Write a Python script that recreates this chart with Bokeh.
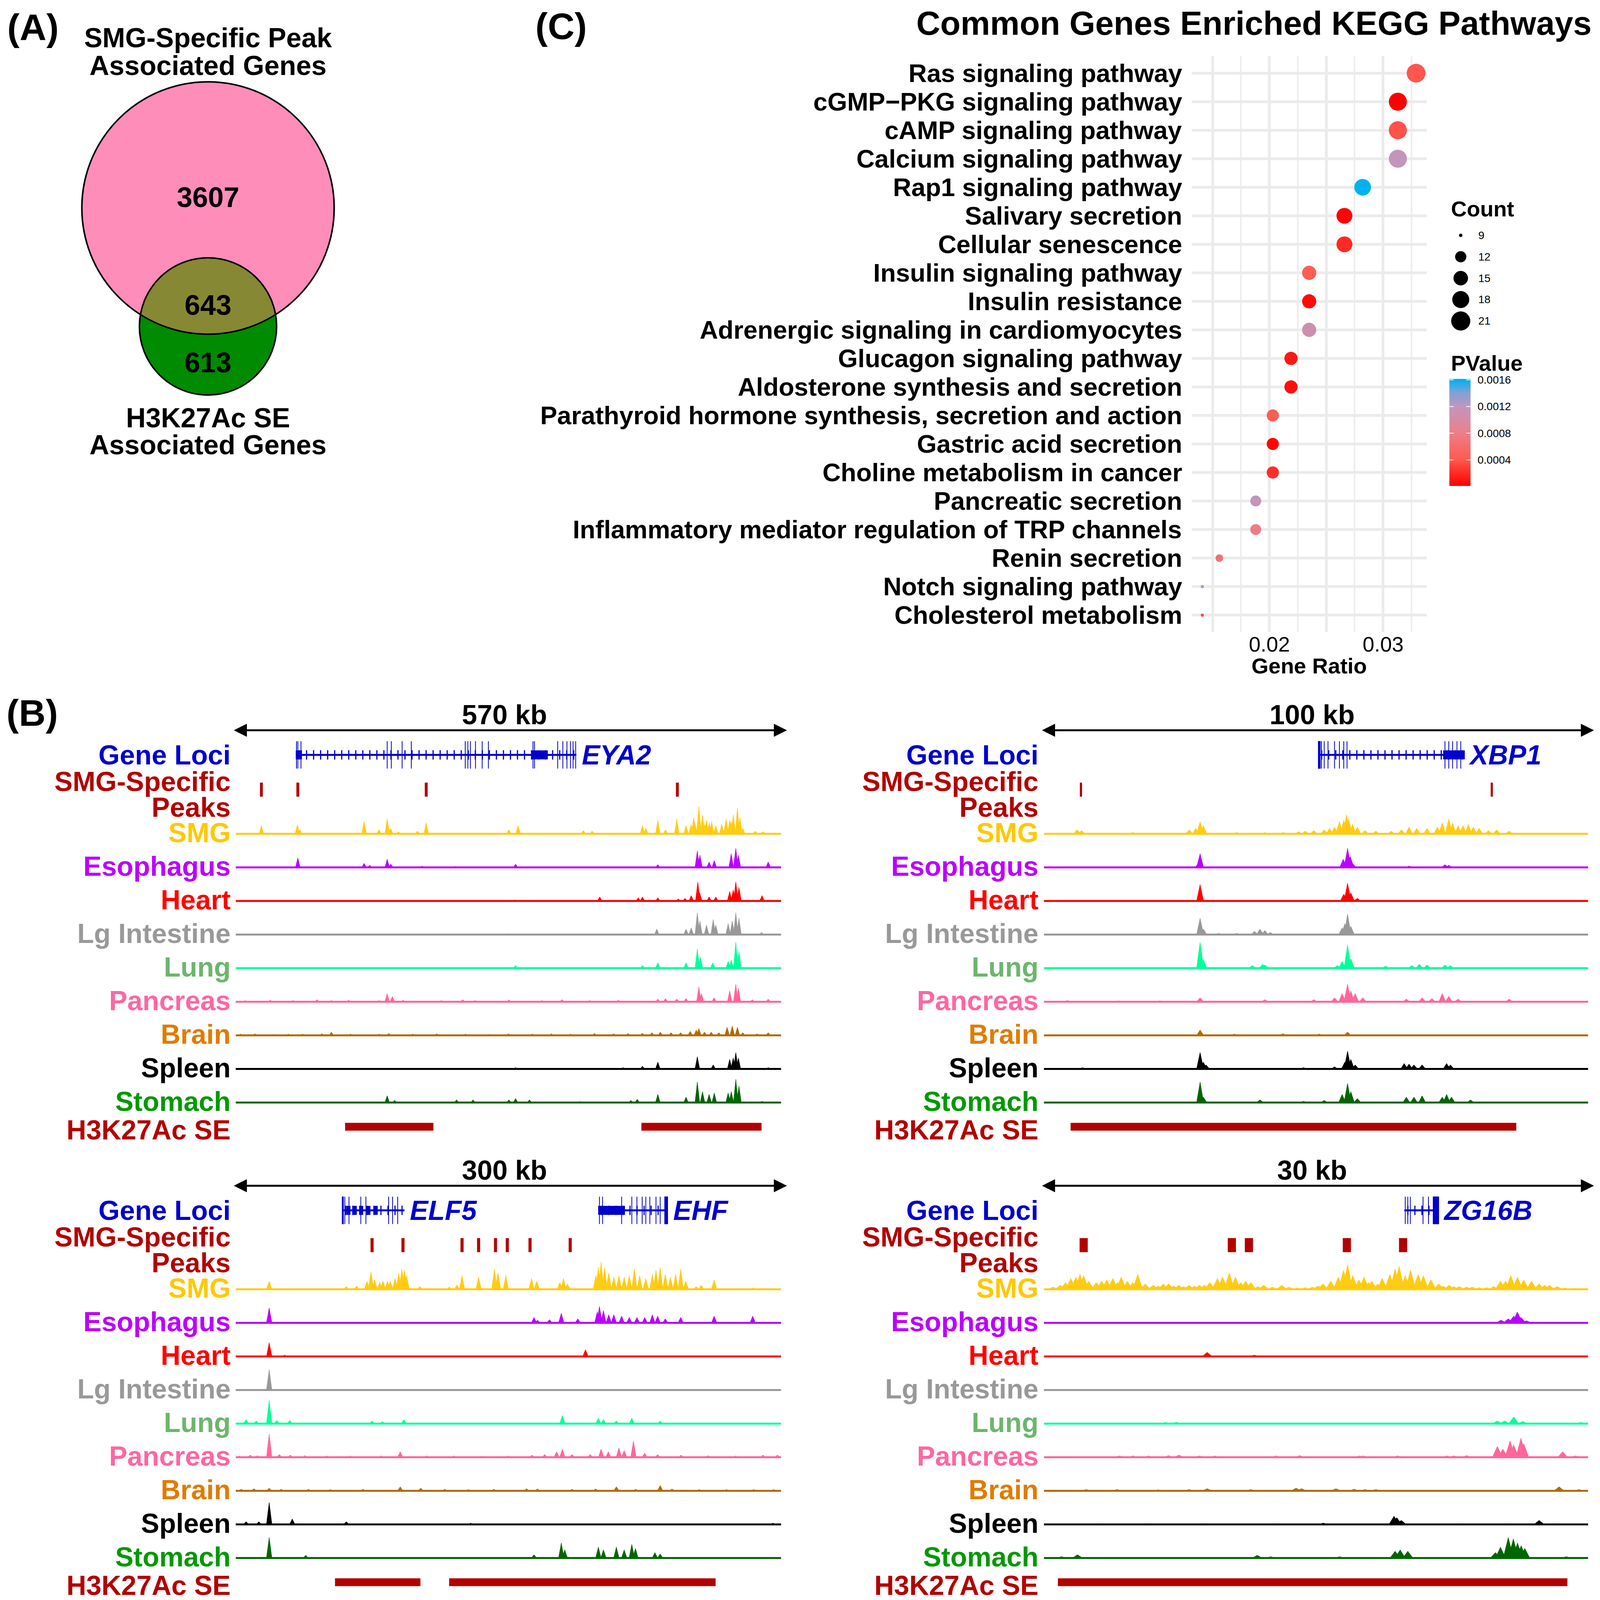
import numpy as np
from bokeh.plotting import figure
from bokeh.models import Range1d, FactorRange, FixedTicker, LinearColorMapper, Arrow, NormalHead, ColumnDataSource
from bokeh.layouts import row, column
from bokeh.core.properties import value
from bokeh.embed import file_html
from bokeh.resources import INLINE

FONT = "Liberation Sans"

# ---------------- Panel A data ----------------
venn_labels_top = ["SMG-Specific Peak", "Associated Genes"]
venn_labels_bottom = ["H3K27Ac SE", "Associated Genes"]
venn_only_peak = 3607
venn_overlap = 643
venn_only_se = 613

# ---------------- Panel C data ----------------
kegg_pathways = [
    "Ras signaling pathway", "cGMP\u2212PKG signaling pathway", "cAMP signaling pathway",
    "Calcium signaling pathway", "Rap1 signaling pathway", "Salivary secretion",
    "Cellular senescence", "Insulin signaling pathway", "Insulin resistance",
    "Adrenergic signaling in cardiomyocytes", "Glucagon signaling pathway",
    "Aldosterone synthesis and secretion", "Parathyroid hormone synthesis, secretion and action",
    "Gastric acid secretion", "Choline metabolism in cancer", "Pancreatic secretion",
    "Inflammatory mediator regulation of TRP channels", "Renin secretion",
    "Notch signaling pathway", "Cholesterol metabolism"]
kegg_gene_ratio = [0.0329, 0.0313, 0.0313, 0.0313, 0.0282, 0.0266, 0.0266, 0.0235, 0.0235, 0.0235,
                   0.0219, 0.0219, 0.0203, 0.0203, 0.0203, 0.0188, 0.0188, 0.0156, 0.0141, 0.0141]
kegg_count = [21, 20, 20, 20, 18, 17, 17, 15, 15, 15, 14, 14, 13, 13, 13, 12, 12, 10, 9, 9]
kegg_pvalue = [0.00040, 0.0000146, 0.00038, 0.00118, 0.00161, 0.00003, 0.00020, 0.00045, 0.00006,
               0.00110, 0.00012, 0.00008, 0.00044, 0.00004, 0.00022, 0.00118, 0.00078, 0.00066,
               0.00132, 0.00036]
count_breaks = [9, 12, 15, 18, 21]
pvalue_breaks = [0.0004, 0.0008, 0.0012, 0.0016]
ratio_ticks = [0.02, 0.03]
ratio_grid_major = [0.015, 0.02, 0.025, 0.03]
ratio_grid_minor = [0.0175, 0.0225, 0.0275, 0.0325]

# ---------------- Panel B data (positions in kb, relative signal heights) ----------------
TISSUES = ["SMG", "Esophagus", "Heart", "Lg Intestine", "Lung", "Pancreas", "Brain", "Spleen", "Stomach"]

# EYA2 locus (570 kb)
eya2_window = 570
eya2_genes = [("EYA2", 63, 356,
               [63.5, 64.9, 68.2, 158.3, 162.6, 173.9, 183.5, 239.9, 242.6, 245.3, 250.6, 257.6, 264.1,
                310.7, 312.3, 336.5, 341.9, 346.2, 349.9, 352.6, 355.3],
               [(63, 69), (309, 326)], [])]
eya2_peaks = [26.8, 64.9, 199.1, 461.6]
eya2_se = [(114.3, 206.6), (424.0, 549.6)]
eya2_smg = [(26.8, .3), (64.4, .33), (67, .15), (134.2, .45), (149.7, .15), (158.3, .55), (162, .2), (170, .08),
            (190, .1), (199.1, .4), (285.5, .15), (295.2, .3), (363.3, .12), (372.5, .1), (425.1, .3), (428.8, .2),
            (441.2, .5), (449.2, .15), (461, .55), (470.7, .3), (476, .35), (478.7, .6), (480, .4), (484.1, 1.0),
            (487.9, .7), (490, .35), (492.1, .5), (495, .4), (497.5, .45), (501.8, .3), (508, .35), (512.5, .55),
            (516.3, .5), (518, .45), (520.1, .7), (524.4, .95), (527, .6), (530, .2), (543.1, .1), (551.2, .08)]
eya2_eso = [(64.9, .35), (134.2, .15), (140, .08), (158.3, .3), (162.1, .12), (194.8, .05), (230, .04),
            (292.5, .12), (380, .03), (441.2, .1), (482.5, .6), (485.2, .45), (494.8, .2), (500.2, .25),
            (517.9, .5), (522.7, .7), (525.4, .45), (556.6, .2)]
eya2_heart = [(292, .04), (380.5, .15), (420.8, .12), (425.1, .15), (441.2, .12), (462.6, .08), (469.6, .1),
              (476.1, .2), (483, .7), (485, .3), (494.8, .15), (501.8, .15), (516.3, .35), (520, .4),
              (522.7, .7), (526, .5), (550.1, .2)]
eya2_lgi = [(186, .03), (285.5, .04), (440.1, .2), (470.7, .2), (476.1, .25), (482.5, .8), (485.2, .5),
            (492.1, .35), (499.1, .55), (501.8, .35), (514.7, .4), (519, .5), (522.7, .8), (526, .6), (549.6, .08)]
eya2_lung = [(292.5, .1), (425.1, .1), (441.2, .2), (470.7, .2), (482.5, .7), (485.7, .4), (498.6, .2),
             (514.7, .25), (518, .3), (522.7, .95), (526, .6)]
eya2_panc = [(10, .05), (36, .06), (60, .05), (85, .08), (100, .05), (118, .06), (150, .05), (158.3, .3),
             (163.7, .2), (175, .06), (215, .05), (237.2, .08), (250, .05), (285.5, .07), (320, .05), (341, .08),
             (370, .05), (400, .06), (441.2, .1), (449.2, .12), (461, .1), (470.7, .12), (484.1, .55),
             (486.8, .3), (500, .15), (516.3, .4), (522.7, .65), (525.4, .5), (540, .08), (556.6, .1)]
eya2_brain = [(5, .05), (20, .06), (40, .04), (55, .05), (70, .05), (90, .06), (100, .12), (120, .05), (150, .05),
              (160, .07), (185, .05), (210, .06), (240, .05), (265, .04), (285, .06), (310, .05), (330, .06),
              (350, .05), (375, .07), (395, .06), (410, .07), (425, .08), (435, .1), (443.8, .12), (455, .1),
              (465, .1), (475, .15), (481.4, .2), (484.1, .25), (490, .12), (497, .12), (505, .1), (513.6, .3),
              (519, .35), (524.4, .3), (530, .1), (545, .06), (556.6, .1)]
eya2_spleen = [(292.5, .05), (405, .05), (425.1, .1), (441.2, .25), (482.5, .45), (499.1, .15), (516.3, .35),
               (520, .4), (522.7, .6), (525.4, .4), (556.6, .05)]
eya2_stomach = [(158.3, .25), (166, .08), (230.8, .1), (248, .1), (285.5, .1), (292.5, .15), (307, .1), (360, .04),
                (413, .08), (419.7, .12), (441.2, .3), (470.7, .2), (482.5, .75), (487.9, .4), (494.8, .3),
                (500.2, .35), (514.7, .35), (518, .4), (522.7, .85), (526, .6), (550.1, .05)]

# XBP1 locus (100 kb)
xbp1_window = 100
xbp1_genes = [("XBP1", 50.4, 77.3,
               [50.6, 51.0, 51.5, 52.2, 53.4, 54.3, 55.1, 55.7, 73.7, 74.4, 75.1, 75.9, 76.6],
               [(73.4, 77.3)], [(50.4, 50.8)])]
xbp1_peaks = [6.8, 82.3]
xbp1_se = [(4.9, 86.8)]
xbp1_smg = [(6.1, .15), (6.9, .12), (16.3, .05), (26.7, .15), (27.9, .2), (28.7, .45), (29.3, .3), (35.4, .05),
            (40.6, .05), (44, .05), (46.8, .08), (48, .1), (49.6, .12), (51.5, .15), (52.5, .2), (53.4, .25),
            (54.3, .45), (55.1, .5), (55.6, .7), (56, .55), (56.7, .35), (57.6, .25), (59, .12), (61, .1),
            (63.8, .1), (65.7, .15), (67.1, .25), (68.5, .2), (70.4, .2), (72.3, .25), (73.2, .4), (74.4, .55),
            (75.1, .4), (76.1, .3), (77, .3), (78, .35), (78.9, .25), (80, .2), (81.7, .12), (83.2, .15), (85.5, .1)]
xbp1_eso = [(28.4, .15), (28.7, .5), (55, .3), (55.8, .7), (56.3, .4), (56.7, .15), (67.1, .05), (73.7, .1), (74.4, .08)]
xbp1_heart = [(28.7, .6), (55.1, .25), (55.8, .65), (56.4, .3), (57.6, .1)]
xbp1_lgi = [(28.7, .6), (29.3, .2), (32.1, .05), (35.4, .05), (38.7, .12), (39.7, .2), (40.6, .15), (41.6, .08),
            (54.8, .25), (55.3, .4), (55.8, .75), (56.4, .3), (67.1, .03)]
xbp1_lung = [(28.7, .95), (29.3, .3), (38.3, .1), (40.2, .15), (40.6, .12), (53.9, .1), (54.8, .25), (55.8, .85),
             (56.4, .35), (62.8, .08), (67.6, .1), (69.0, .15), (70.4, .12), (73.7, .12), (74.7, .1), (85.1, .03)]
xbp1_panc = [(4.3, .05), (13.7, .04), (21.3, .04), (28.7, .15), (40.6, .08), (49.6, .08), (53.4, .15), (54.8, .3),
             (55.8, .65), (56.4, .4), (57.2, .3), (58.6, .15), (66.6, .1), (69.5, .15), (71.3, .12), (73.2, .3),
             (74.4, .2), (76.1, .1), (85.5, .1)]
xbp1_brain = [(12, .03), (28.7, .2), (35.0, .05), (43.9, .06), (50.6, .05), (55.8, .12), (78.0, .03), (90, .03)]
xbp1_spleen = [(7.1, .05), (28.7, .6), (29.3, .25), (29.8, .15), (47.7, .05), (53.4, .08), (55.3, .25), (55.8, .65),
               (56.4, .35), (57.2, .15), (66.2, .2), (67.1, .18), (68.0, .15), (69.5, .15), (74.0, .2), (74.7, .15)]
xbp1_stomach = [(28.7, .75), (29.3, .2), (39.7, .1), (47.7, .05), (51.5, .08), (54.8, .3), (55.8, .7), (56.4, .4),
                (57.6, .15), (66.6, .2), (68.0, .2), (69.5, .25), (73.2, .2), (74.0, .3), (74.9, .2), (78.4, .1)]

# ELF5 / EHF locus (300 kb)
elf5_window = 300
elf5_genes = [("ELF5", 58.6, 92.8, [58.6, 60.0, 62.3, 68.8, 71.6, 84.1, 86.3, 89.1],
               [(61, 63), (64.5, 66.5), (68, 70), (72, 74), (76, 78)], [(58.6, 59.3)]),
              ("EHF", 199.5, 237.7, [200.1, 201.8, 212.3, 217.9, 220.7, 223.6, 225.6, 227.8, 231.2, 233.5],
               [(199.5, 214)], [(235.9, 237.7)])]
elf5_peaks = [75.0, 92.0, 124.5, 133.6, 142.9, 149.4, 161.9, 184.0]
elf5_se = [(54.6, 101.6), (117.4, 264.0)]
elf5_smg = [(18.4, .3), (60.8, .1), (66.5, .12), (72.2, .3), (74.4, .65), (76.4, .35), (79.2, .25), (81, .3),
            (83.5, .3), (85, .3), (87.7, .4), (89.7, .6), (91.4, .75), (92.8, .7), (94.0, .5), (101.3, .1),
            (117.4, .08), (121.7, .15), (124.5, .5), (133.6, .45), (142.3, .75), (144.3, .6), (148.6, .5),
            (162.7, .4), (165.6, .3), (178.3, .25), (180.3, .4), (182.5, .2), (198.1, .5), (199.5, .8), (201.0, 1.0),
            (202.9, .8), (205.2, .6), (208.0, .45), (210.8, .5), (213.7, .45), (216.5, .5), (219.3, .75),
            (222.2, .5), (225.6, .4), (229.2, .55), (231.2, .7), (233.5, .8), (236.3, .55), (239.1, .45),
            (242.0, .55), (244.8, .75), (247.6, .3), (253.3, .1), (256.1, .15), (263.2, .35), (284.4, .05)]
elf5_eso = [(18.4, .55), (164.1, .2), (166, .1), (172.6, .12), (179.1, .35), (188.2, .15), (198.9, .4), (200.1, .6),
            (202.3, .45), (205.2, .3), (208.0, .3), (212.3, .25), (216.5, .2), (220.7, .2), (225.0, .2), (229.2, .3),
            (232.1, .25), (236.3, .15), (244.8, .2), (263.2, .25), (284.4, .25)]
elf5_heart = [(18.4, .5), (26.9, .05), (192.4, .25), (210.8, .03), (258, .02)]
elf5_lgi = [(18.4, .75)]
elf5_lung = [(5.7, .15), (11.3, .1), (18.4, .85), (22.6, .12), (29.7, .12), (75.0, .1), (80.7, .08), (92.5, .15),
             (179.7, .3), (199.5, .2), (202.3, .15), (209.4, .1), (217.9, .2), (233.5, .1)]
elf5_panc = [(2, .05), (8, .08), (12, .06), (18.4, .85), (24, .1), (30, .08), (38, .06), (50, .05), (63, .05),
             (80, .05), (90.5, .2), (105, .05), (120, .05), (135, .04), (150, .05), (163, .08), (170, .1),
             (176.5, .2), (179.7, .3), (185, .1), (195, .1), (201.0, .3), (205, .2), (210.8, .35), (213.7, .25),
             (218.8, .6), (225.0, .15), (232.1, .1), (245, .08), (260, .06), (275, .05), (290, .08), (298, .08)]
elf5_brain = [(3, .06), (10, .08), (18.4, .1), (25, .06), (40, .06), (52, .05), (70, .06), (90.5, .15), (101.8, .1),
              (115, .06), (128, .05), (142, .06), (160, .08), (166, .07), (185, .06), (198, .07), (209.4, .15),
              (220, .06), (233.5, .2), (240, .07), (255, .05), (270, .05), (285, .05), (296, .05)]
elf5_spleen = [(5.7, .1), (12.7, .1), (18.4, .8), (31.1, .2), (60.8, .1), (129.3, .05), (295.5, .05)]
elf5_stomach = [(18.4, .75), (38.5, .1), (164.1, .12), (179.1, .55), (181, .3), (199.5, .4), (202.3, .3),
                (209.4, .4), (213.7, .3), (217.9, .5), (219.9, .35), (230.6, .2), (233.5, .15)]

# ZG16B locus (30 kb)
zg16b_window = 30
zg16b_genes = [("ZG16B", 19.87, 21.77, [19.92, 20.06, 20.2, 20.9, 21.2], [], [(21.45, 21.77)])]
zg16b_peaks = [2.19, 10.36, 11.3, 16.7, 19.8]
zg16b_se = [(0.77, 28.86)]
zg16b_smg = [(0.5, .08), (0.9, .15), (1.19, .25), (1.48, .4), (1.76, .45), (1.99, .55), (2.19, .5), (2.47, .3),
             (2.89, .25), (3.18, .3), (3.46, .35), (3.8, .4), (4.05, .25), (4.26, .45), (4.6, .3), (4.9, .25),
             (5.17, .55), (5.59, .2), (6.02, .15), (6.3, .12), (6.58, .2), (6.87, .2), (7.15, .12), (7.44, .15),
             (7.7, .1), (8.0, .15), (8.3, .12), (8.57, .15), (8.85, .15), (9.14, .25), (9.56, .4), (9.85, .45),
             (10.22, .6), (10.56, .45), (10.85, .25), (11.12, .3), (11.41, .25), (11.8, .1), (12.12, .15),
             (12.6, .08), (13.11, .15), (13.5, .08), (13.96, .05), (14.4, .06), (14.81, .08), (15.1, .12),
             (15.38, .2), (15.81, .3), (16.23, .45), (16.52, .7), (16.74, .9), (17.03, .5), (17.37, .35),
             (17.65, .45), (17.9, .25), (18.08, .3), (18.4, .2), (18.65, .4), (19.07, .55), (19.36, .75),
             (19.58, .85), (19.92, .5), (20.21, .7), (20.63, .55), (20.92, .5), (21.34, .35), (21.77, .2),
             (22.0, .12), (22.34, .15), (22.6, .1), (22.9, .1), (23.3, .08), (23.61, .08), (24.0, .06), (24.4, .06),
             (24.8, .1), (25.17, .3), (25.45, .3), (25.74, .5), (26.11, .45), (26.45, .35), (26.88, .3),
             (27.30, .2), (27.6, .15), (27.87, .15), (28.3, .1), (28.72, .05), (29.2, .04)]
zg16b_eso = [(1.76, .03), (4.6, .03), (7.0, .03), (10.4, .03), (16.5, .03), (20.4, .03), (25.2, .1), (25.6, .15),
             (25.9, .25), (26.1, .4), (26.3, .2), (26.6, .08), (28.9, .03), (29.7, .03)]
zg16b_heart = [(9.0, .15), (11.6, .05), (16.8, .02), (25.7, .02)]
zg16b_lgi = []
zg16b_lung = [(6.7, .05), (7.3, .05), (25.0, .1), (25.4, .1), (25.9, .25), (26.4, .08), (29.6, .05)]
zg16b_panc = [(4.16, .05), (4.9, .05), (5.76, .05), (6.87, .06), (7.44, .08), (8.57, .05), (9.42, .05), (12.8, .05),
              (14.1, .06), (17.4, .05), (17.6, .05), (19.5, .05), (22.2, .05), (22.6, .05), (23.3, .06), (25.0, .4),
              (25.3, .3), (25.7, .6), (25.9, .45), (26.3, .7), (26.45, .5), (28.6, .2), (29.3, .05)]
zg16b_brain = [(2.33, .05), (4.03, .05), (6.3, .04), (8.0, .05), (9.0, .08), (11.4, .05), (13.9, .1), (14.2, .08),
               (16.1, .08), (17.1, .06), (17.7, .05), (18.3, .05), (28.4, .15), (29.5, .05)]
zg16b_spleen = [(3.0, .03), (5.9, .03), (9.0, .03), (12.9, .03), (15.4, .05), (19.3, .3), (19.45, .25), (19.7, .15),
                (23.1, .03), (25.5, .03), (27.3, .15), (28.4, .03)]
zg16b_stomach = [(0.97, .05), (1.85, .12), (11.76, .1), (12.5, .05), (16.3, .05), (19.36, .25), (19.64, .3),
                 (20.06, .25), (24.89, .2), (25.17, .4), (25.6, .75), (25.88, .7), (26.11, .55), (26.31, .45),
                 (26.51, .35), (28.8, .05)]

# ---------------- styles ----------------
GENE_COLOR = "#0000CD"
PEAK_COLOR = "#B30000"
TRACK_COLORS = ["#FFCC11", "#BB00FF", "#FF0000", "#999999", "#00FF99", "#FF6699", "#B36B00", "#000000", "#006600"]
LABEL_COLORS = ["#FFC800", "#BB00FF", "#FF0000", "#999999", "#6DB56D", "#FF66A3", "#E07B00", "#000000", "#009900"]
GRAD_STOPS = [0.0, 0.25, 0.5, 0.75, 0.875, 1.0]
GRAD_COLORS = ["#FF0000", "#FF5A50", "#EC8088", "#C096BE", "#80A2D6", "#00B2EE"]

KX = 0.978          # horizontal layout factor (keeps the whole figure inside the window)


def X(x):
    return round(x * KX)


def base_fig(w, h, xr, yr, **kw):
    p = figure(width=w, height=h, x_range=xr, y_range=yr, output_backend="svg", toolbar_location=None,
               x_axis_location=None, y_axis_location=None, min_border=0, title=None, **kw)
    p.grid.visible = False
    p.outline_line_color = None
    return p


def txt(p, x, y, t, size, color="black", align="left", style="bold", baseline="middle"):
    p.text(x=x, y=y, text=t, text_font=value(FONT), text_font_size=size, text_font_style=style,
           text_color=color, text_align=align, text_baseline=baseline)


PAGE_RIGHT = X(4200)
COL2_X = X(1400)

# ================= Panel A: Venn =================
fA = base_fig(COL2_X - 8, 1765, Range1d(8, COL2_X), Range1d(1773, 8))
n_peak = venn_only_peak + venn_overlap
n_se = venn_only_se + venn_overlap
R1 = 323.0
R2 = R1 * np.sqrt(n_se / n_peak)


def lens_area(d, r1, r2):
    if d >= r1 + r2:
        return 0.0
    if d <= abs(r1 - r2):
        return np.pi * min(r1, r2) ** 2
    a1 = r1 ** 2 * np.arccos((d * d + r1 * r1 - r2 * r2) / (2 * d * r1))
    a2 = r2 ** 2 * np.arccos((d * d + r2 * r2 - r1 * r1) / (2 * d * r2))
    a3 = 0.5 * np.sqrt((-d + r1 + r2) * (d + r1 - r2) * (d - r1 + r2) * (d + r1 + r2))
    return a1 + a2 - a3


target = np.pi * R1 ** 2 * venn_overlap / n_peak
lo, hi = abs(R1 - R2) + 1e-6, R1 + R2 - 1e-6
for _ in range(80):
    mid = 0.5 * (lo + hi)
    if lens_area(mid, R1, R2) > target:
        lo = mid
    else:
        hi = mid
D = 0.5 * (lo + hi)
cx, cy1 = X(552), 540.0
cy2 = cy1 + D
fA.circle(x=[cx], y=[cy1], radius=R1, fill_color="#FF8DBA", line_color=None)
fA.circle(x=[cx], y=[cy2], radius=R2, fill_color="#008B00", line_color=None)
a_ = (D * D + R1 * R1 - R2 * R2) / (2 * D)
h_ = np.sqrt(R1 * R1 - a_ * a_)
al1 = np.arctan2(h_, a_)
al2 = np.arctan2(h_, D - a_)
ph1 = np.linspace(-al1, al1, 120)
ph2 = np.linspace(al2, -al2, 240)
lx = np.concatenate([cx + R1 * np.sin(ph1), cx + R2 * np.sin(ph2)])
ly = np.concatenate([cy1 + R1 * np.cos(ph1), cy2 - R2 * np.cos(ph2)])
fA.patch(lx, ly, fill_color="#878834", line_color=None)
fA.circle(x=[cx, cx], y=[cy1, cy2], radius=[R1, R2], fill_color=None, line_color="black", line_width=4)
txt(fA, [26], [77], ["(A)"], "95px")
txt(fA, [cx, cx], [104, 175], venn_labels_top, "70px", align="center")
txt(fA, [cx, cx], [1077, 1146], venn_labels_bottom, "70px", align="center")
txt(fA, [cx, cx, cx], [512, 788, 935], [str(venn_only_peak), str(venn_overlap), str(venn_only_se)], "72px",
    align="center")

# ================= Panel C: KEGG dot plot =================
fCt = base_fig(PAGE_RIGHT - COL2_X, 143, Range1d(COL2_X, PAGE_RIGHT), Range1d(151, 8))
txt(fCt, [X(1409)], [74], ["(C)"], "95px")
txt(fCt, [X(4174)], [67], ["Common Genes Enriched KEGG Pathways"], "85px", align="right")


def _rgb(hx):
    return [int(hx[i:i + 2], 16) for i in (1, 3, 5)]


_stops = np.array([_rgb(c) for c in GRAD_COLORS], float)
palette = []
for t in np.linspace(0, 1, 256):
    c = [int(round(np.interp(t, GRAD_STOPS, _stops[:, k]))) for k in range(3)]
    palette.append("#%02x%02x%02x" % tuple(c))
pmin, pmax = min(kegg_pvalue), max(kegg_pvalue)
mapper = LinearColorMapper(palette=palette, low=pmin, high=pmax)

cmin, cmax = min(kegg_count), max(kegg_count)


def dot_diam(c):
    return 8.0 * (1 + 5 * np.sqrt((np.asarray(c, float) - cmin) / (cmax - cmin)))


src = ColumnDataSource(dict(pathway=kegg_pathways, ratio=kegg_gene_ratio, p=kegg_pvalue,
                            size=list(dot_diam(kegg_count))))
rmin, rmax = min(kegg_gene_ratio), max(kegg_gene_ratio)
rpad = 0.05 * (rmax - rmin)
FRAME_BOTTOM = 1626
LEG_X0 = X(3752)
fCp = figure(width=LEG_X0 - COL2_X, height=1622, x_range=Range1d(rmin - rpad, rmax + rpad),
             y_range=FactorRange(factors=kegg_pathways[::-1], range_padding=0.1, range_padding_units="absolute"),
             output_backend="svg", toolbar_location=None, title=None,
             min_border_left=X(3127) - COL2_X, min_border_right=LEG_X0 - X(3742), min_border_top=0,
             min_border_bottom=1773 - FRAME_BOTTOM)
fCp.outline_line_color = None
fCp.scatter(x="ratio", y="pathway", size="size", source=src,
            fill_color={"field": "p", "transform": mapper}, line_color=None)
fCp.xaxis.ticker = FixedTicker(ticks=ratio_ticks)
fCp.xgrid.ticker = FixedTicker(ticks=ratio_grid_major, minor_ticks=ratio_grid_minor)
fCp.xgrid.grid_line_color = "#EBEBEB"
fCp.xgrid.grid_line_width = 7
fCp.xgrid.minor_grid_line_color = "#EDEDED"
fCp.xgrid.minor_grid_line_width = 4
fCp.ygrid.grid_line_color = "#EBEBEB"
fCp.ygrid.grid_line_width = 7
for ax in (fCp.xaxis, fCp.yaxis):
    ax.axis_line_color = None
    ax.major_tick_line_color = None
    ax.minor_tick_line_color = None
    ax.major_label_text_font = FONT
    ax.major_label_text_color = "black"
fCp.yaxis.major_label_text_font_size = "65px"
fCp.yaxis.major_label_text_font_style = "bold"
fCp.yaxis.major_label_standoff = 18
fCp.xaxis.major_label_text_font_size = "54px"
fCp.xaxis.major_label_standoff = 6
fCp.xaxis.axis_label = "Gene Ratio"
fCp.xaxis.axis_label_text_font = FONT
fCp.xaxis.axis_label_text_font_size = "56px"
fCp.xaxis.axis_label_text_font_style = "bold"
fCp.xaxis.axis_label_text_color = "black"
fCp.xaxis.axis_label_standoff = 2

# legends (frame aligned with the dot plot frame: page y 151..FRAME_BOTTOM)
fCl = base_fig(PAGE_RIGHT - LEG_X0, 1622, Range1d(LEG_X0, PAGE_RIGHT), Range1d(FRAME_BOTTOM, 151))
fCl.min_border_bottom = 1773 - FRAME_BOTTOM
txt(fCl, [X(3806)], [542], ["Count"], "56px")
leg_y = [610 + 54.8 * i for i in range(len(count_breaks))]
fCl.scatter(x=[X(3831)] * len(count_breaks), y=leg_y, size=list(dot_diam(count_breaks)), color="black")
txt(fCl, [X(3877)] * len(count_breaks), leg_y, [str(c) for c in count_breaks], "28px", style="normal")
txt(fCl, [X(3806)], [937], ["PValue"], "56px")
bar_l = X(3802)
bar_r, bar_top, bar_bot = bar_l + 54, 978, 1251
vals = np.linspace(pmin, pmax, 101)


def bar_y(v):
    return bar_bot - (np.asarray(v) - pmin) / (pmax - pmin) * (bar_bot - bar_top)


vmid = 0.5 * (vals[:-1] + vals[1:])
bar_src = ColumnDataSource(dict(v=vmid, t=bar_y(vals[1:]) - 0.5, b=bar_y(vals[:-1]) + 0.5))
fCl.quad(left=bar_l, right=bar_r, top="t", bottom="b",
         fill_color={"field": "v", "transform": mapper}, line_color=None, source=bar_src)
ty = bar_y(pvalue_breaks)
fCl.segment(x0=bar_l, x1=bar_l + 11, y0=ty, y1=ty, line_color="white", line_width=2)
fCl.segment(x0=bar_r - 11, x1=bar_r, y0=ty, y1=ty, line_color="white", line_width=2)
txt(fCl, [bar_r + 18] * len(pvalue_breaks), list(ty), ["%.4f" % v for v in pvalue_breaks], "28px", style="normal")

# ================= Panel B: genome tracks =================
ROW2_TOP, ROW3_TOP, PAGE_BOTTOM = 1773, 2958, 4109
MID_X = X(2100)
TRACK_PX = {"left": (X(625), X(2052)), "right": (X(2740), X(4165))}   # page x of the track window
LABEL_PX = {"left": X(611), "right": X(2726)}
FIG_X = {"left": (8, MID_X), "right": (MID_X, PAGE_RIGHT)}
AMP, DY = 70, 86.0


def make_block(col, top, bottom, S, L, genes, peaks, peak_w, se, tracks, scale_txt, spike_px, letter=None):
    a, b = TRACK_PX[col]
    x0, x1 = FIG_X[col]
    s = L / (b - a)
    p = base_fig(x1 - x0, bottom - top, Range1d((x0 - a) * s, (x1 - a) * s), Range1d(bottom, top))
    y_arrow, y_gene, y_spec1, y_spec2, y_peak = S + 40, S + 103, S + 171, S + 237, S + 192
    y_base = [S + 305 + i * DY for i in range(len(TISSUES))]
    y_se, y_se_txt = y_base[-1] + 62, y_base[-1] + 70
    lxx = (LABEL_PX[col] - a) * s
    names = ["Gene Loci", "SMG-Specific", "Peaks"] + TISSUES + ["H3K27Ac SE"]
    ys = [y_gene, y_spec1, y_spec2] + [yb - 3 for yb in y_base] + [y_se_txt]
    cols = [GENE_COLOR, PEAK_COLOR, PEAK_COLOR] + LABEL_COLORS + [PEAK_COLOR]
    txt(p, [lxx] * len(names), ys, names, "70px", color=cols, align="right")
    if letter:
        txt(p, [(24 - a) * s], [S - 5], [letter], "95px")
    p.add_layout(Arrow(start=NormalHead(size=32, fill_color="black", line_color="black"),
                       end=NormalHead(size=32, fill_color="black", line_color="black"),
                       x_start=-4 * s, x_end=L + 14 * s, y_start=y_arrow, y_end=y_arrow,
                       line_width=5, line_color="black"))
    txt(p, [L / 2 - 10 * s], [S], [scale_txt], "70px", align="center")
    for name, g0, g1, exons, thick, caps in genes:
        p.segment(x0=[g0], x1=[g1], y0=[y_gene], y1=[y_gene], line_width=5, line_color=GENE_COLOR)
        ch = np.arange(g0 + 9 * s, g1, 18 * s)
        p.segment(x0=ch, x1=ch, y0=y_gene - 12, y1=y_gene + 12, line_width=3, line_color=GENE_COLOR)
        p.segment(x0=exons, x1=exons, y0=y_gene - 35, y1=y_gene + 35, line_width=2, line_color=GENE_COLOR)
        if thick:
            p.quad(left=[t[0] for t in thick], right=[t[1] for t in thick], top=y_gene - 11, bottom=y_gene + 11,
                   fill_color=GENE_COLOR, line_color=GENE_COLOR)
        if caps:
            p.quad(left=[t[0] for t in caps], right=[t[1] for t in caps], top=y_gene - 35, bottom=y_gene + 35,
                   fill_color=GENE_COLOR, line_color=GENE_COLOR)
        txt(p, [g1 + 14 * s], [y_gene], [name], "70px", color=GENE_COLOR, style="bold italic")
    pk = np.asarray(peaks, float)
    p.quad(left=pk - peak_w / 2, right=pk + peak_w / 2, top=y_peak - 18, bottom=y_peak + 18,
           fill_color=PEAK_COLOR, line_color=None)
    p.quad(left=[e[0] for e in se], right=[e[1] for e in se], top=y_se - 10, bottom=y_se + 10,
           fill_color=PEAK_COLOR, line_color=None)
    hw = spike_px / 2 * s
    for trk, colr, base in zip(tracks, TRACK_COLORS, y_base):
        if trk:
            xs = [[x - hw, x, x + hw] for x, h in trk]
            yy = [[base, base - h * AMP, base] for x, h in trk]
            p.patches(xs, yy, fill_color=colr, line_color=colr, line_width=1)
        p.segment(x0=[0], x1=[L], y0=[base], y1=[base], line_width=5, line_color=colr)
    return p


b1 = make_block("left", ROW2_TOP, ROW3_TOP, 1837, eya2_window, eya2_genes, eya2_peaks, 3.0, eya2_se,
                [eya2_smg, eya2_eso, eya2_heart, eya2_lgi, eya2_lung, eya2_panc, eya2_brain, eya2_spleen,
                 eya2_stomach], "570 kb", 12, letter="(B)")
b2 = make_block("right", ROW2_TOP, ROW3_TOP, 1837, xbp1_window, xbp1_genes, xbp1_peaks, 0.4, xbp1_se,
                [xbp1_smg, xbp1_eso, xbp1_heart, xbp1_lgi, xbp1_lung, xbp1_panc, xbp1_brain, xbp1_spleen,
                 xbp1_stomach], "100 kb", 18)
b3 = make_block("left", ROW3_TOP, PAGE_BOTTOM, 3003, elf5_window, elf5_genes, elf5_peaks, 1.7, elf5_se,
                [elf5_smg, elf5_eso, elf5_heart, elf5_lgi, elf5_lung, elf5_panc, elf5_brain, elf5_spleen,
                 elf5_stomach], "300 kb", 14)
b4 = make_block("right", ROW3_TOP, PAGE_BOTTOM, 3003, zg16b_window, zg16b_genes, zg16b_peaks, 0.45, zg16b_se,
                [zg16b_smg, zg16b_eso, zg16b_heart, zg16b_lgi, zg16b_lung, zg16b_panc, zg16b_brain,
                 zg16b_spleen, zg16b_stomach], "30 kb", 26)

layout = column(row(fA, column(fCt, row(fCp, fCl))), row(b1, b2), row(b3, b4))
open("out.html", "w").write(file_html(layout, INLINE))
